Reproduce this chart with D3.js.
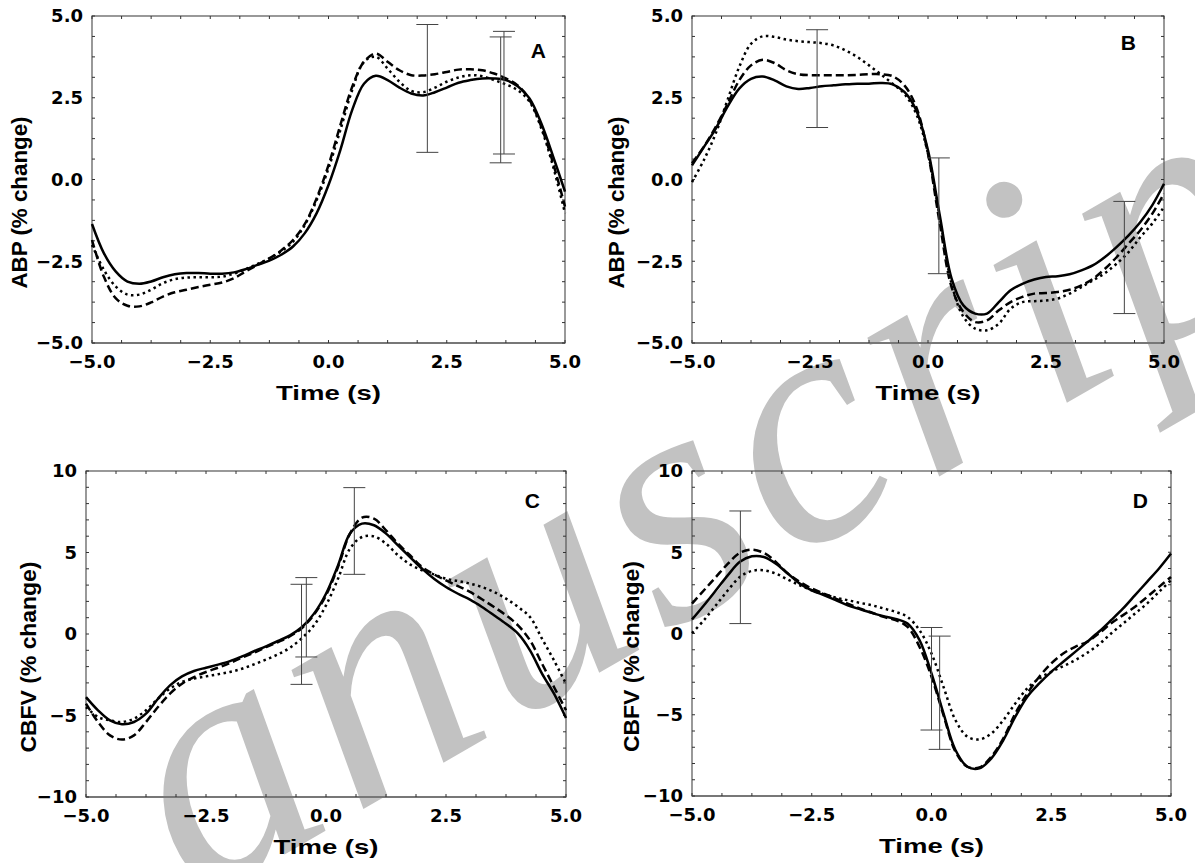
<!DOCTYPE html>
<html>
<head>
<meta charset="utf-8">
<script src="https://cdn.jsdelivr.net/npm/d3@7"></script>
<style>
	body { margin: 0; background: #fff; }
	svg { display: block; }
	.tick-label { font-family: 'DejaVu Sans', sans-serif; font-weight: bold; font-size: 18px; fill: #000; }
	.axis-title { font-family: 'Liberation Sans', Arial, sans-serif; font-weight: bold; fill: #000; }
</style>
</head>
<body>
<div id="graph"></div>
<script>

// sample times (s), shared by every curve
const time = [-5, -4.75, -4.5, -4.25, -4, -3.75, -3.5, -3.25, -3, -2.75, -2.5, -2.25, -2, -1.75, -1.5, -1.25, -1, -0.75, -0.5, -0.25,
	0, 0.25, 0.5, 0.75, 1, 1.25, 1.5, 1.75, 2, 2.25, 2.5, 2.75, 3, 3.25, 3.5, 3.75, 4, 4.25, 4.5, 4.75, 5]

// panel A : ABP
const abpASolid = [-1.36, -2.25, -2.81, -3.12, -3.19, -3.12, -2.99, -2.9, -2.86, -2.86, -2.88, -2.88, -2.84, -2.74, -2.61, -2.48, -2.3, -2.05, -1.64, -1.03,
	-0.17, 0.9, 2.12, 2.93, 3.17, 3.04, 2.81, 2.63, 2.57, 2.67, 2.81, 2.96, 3.04, 3.09, 3.09, 3.04, 2.85, 2.48, 1.71, 0.7, -0.37]
const abpADashed = [-1.85, -2.97, -3.63, -3.86, -3.88, -3.76, -3.58, -3.45, -3.37, -3.29, -3.22, -3.15, -3.02, -2.81, -2.61, -2.41, -2.17, -1.85, -1.36, -0.57,
	0.44, 1.66, 2.83, 3.6, 3.85, 3.6, 3.34, 3.19, 3.18, 3.22, 3.29, 3.36, 3.37, 3.34, 3.24, 3.09, 2.88, 2.43, 1.61, 0.49, -0.83]
const abpADotted = [-2.0, -2.76, -3.27, -3.52, -3.52, -3.37, -3.17, -3.05, -3.0, -2.99, -2.99, -2.97, -2.88, -2.74, -2.58, -2.41, -2.2, -1.9, -1.39, -0.63,
	0.34, 1.51, 2.73, 3.6, 3.75, 3.39, 2.99, 2.71, 2.67, 2.81, 2.99, 3.12, 3.19, 3.16, 3.04, 2.91, 2.73, 2.38, 1.56, 0.39, -1.03]
const abpAErrT = [2.09, 3.64, 3.71]
const abpAErrLo = [0.83, 0.51, 0.78]
const abpAErrHi = [4.74, 4.36, 4.53]

// panel B : ABP
const abpBSolid = [0.43, 0.99, 1.55, 2.22, 2.78, 3.08, 3.15, 3.03, 2.85, 2.77, 2.8, 2.85, 2.88, 2.91, 2.93, 2.93, 2.95, 2.91, 2.68, 2.12,
	0.89, -1.1, -3.03, -3.85, -4.1, -4.1, -3.75, -3.39, -3.19, -3.06, -2.98, -2.96, -2.9, -2.78, -2.62, -2.37, -2.06, -1.71, -1.3, -0.79, -0.13]
const abpBDashed = [0.5, 1.0, 1.6, 2.3, 3.03, 3.49, 3.66, 3.56, 3.34, 3.22, 3.19, 3.19, 3.19, 3.19, 3.2, 3.22, 3.22, 3.16, 2.88, 2.22,
	0.79, -1.35, -3.29, -4.05, -4.36, -4.31, -4.0, -3.75, -3.59, -3.49, -3.47, -3.44, -3.37, -3.24, -3.03, -2.73, -2.37, -1.96, -1.55, -1.05, -0.43]
const abpBDotted = [-0.08, 0.59, 1.4, 2.42, 3.44, 4.15, 4.38, 4.36, 4.28, 4.23, 4.2, 4.17, 4.1, 3.95, 3.75, 3.49, 3.22, 2.93, 2.62, 2.01,
	0.79, -1.15, -3.19, -4.2, -4.56, -4.61, -4.41, -3.95, -3.75, -3.72, -3.7, -3.64, -3.49, -3.29, -3.08, -2.86, -2.57, -2.22, -1.76, -1.35, -0.84]
const abpBErrT = [-2.35, 0.23, 4.16]
const abpBErrLo = [1.59, -2.88, -4.1]
const abpBErrHi = [4.58, 0.66, -0.67]

// panel C : CBFV
const cbfvCSolid = [-3.87, -4.68, -5.3, -5.54, -5.4, -4.89, -3.97, -3.15, -2.6, -2.27, -2.07, -1.88, -1.66, -1.37, -1.06, -0.76, -0.43, -0.08, 0.43, 1.25,
	2.47, 4.21, 6.16, 6.77, 6.67, 6.16, 5.44, 4.72, 4.01, 3.39, 2.88, 2.47, 2.11, 1.66, 1.15, 0.63, 0.02, -1.0, -2.43, -3.66, -5.15]
const cbfvCDashed = [-4.27, -5.4, -6.22, -6.48, -6.22, -5.4, -4.48, -3.66, -3.05, -2.64, -2.33, -2.07, -1.78, -1.45, -1.15, -0.8, -0.49, -0.14, 0.37, 1.19,
	2.37, 4.11, 6.16, 7.14, 7.08, 6.36, 5.54, 4.83, 4.11, 3.66, 3.29, 2.94, 2.58, 2.13, 1.66, 1.15, 0.53, -0.39, -1.82, -3.25, -4.68]
const cbfvCDotted = [-4.48, -5.09, -5.3, -5.4, -5.19, -4.68, -3.97, -3.35, -2.94, -2.74, -2.6, -2.47, -2.33, -2.13, -1.86, -1.57, -1.25, -0.84, -0.25, 0.53,
	1.76, 3.39, 5.24, 5.95, 5.99, 5.54, 4.83, 4.27, 3.91, 3.66, 3.39, 3.25, 3.09, 2.88, 2.58, 2.17, 1.66, 1.04, -0.29, -1.62, -3.05]
const cbfvCErrT = [-0.51, -0.41, 0.59]
const cbfvCErrLo = [-3.09, -1.41, 3.66]
const cbfvCErrHi = [3.05, 3.46, 8.98]

// panel D : CBFV
const cbfvDSolid = [0.86, 1.74, 2.66, 3.59, 4.41, 4.75, 4.71, 4.3, 3.69, 3.07, 2.66, 2.36, 2.05, 1.74, 1.5, 1.27, 1.07, 0.9, 0.61, -0.41,
	-2.46, -4.92, -7.17, -8.2, -8.3, -7.68, -6.56, -5.12, -3.89, -3.07, -2.36, -1.74, -1.13, -0.51, 0.12, 0.82, 1.54, 2.36, 3.18, 4.0, 4.92]
const cbfvDDashed = [1.84, 2.66, 3.48, 4.3, 4.96, 5.16, 4.96, 4.41, 3.69, 3.18, 2.77, 2.46, 2.15, 1.84, 1.54, 1.29, 1.02, 0.82, 0.41, -0.82,
	-2.66, -5.02, -7.27, -8.2, -8.24, -7.58, -6.45, -4.92, -3.69, -2.66, -1.84, -1.23, -0.82, -0.51, 0.02, 0.63, 1.13, 1.64, 2.25, 2.87, 3.48]
const cbfvDDotted = [0.02, 0.82, 1.74, 2.66, 3.48, 3.85, 3.89, 3.69, 3.32, 2.97, 2.66, 2.42, 2.21, 2.05, 1.89, 1.74, 1.54, 1.33, 1.02, 0.2,
	-1.23, -3.28, -5.33, -6.35, -6.52, -6.15, -5.33, -4.3, -3.38, -2.77, -2.36, -2.01, -1.64, -1.19, -0.66, 0.0, 0.61, 1.23, 1.84, 2.56, 3.28]
const cbfvDErrT = [-3.99, 0.0, 0.17]
const cbfvDErrLo = [0.61, -5.94, -7.13]
const cbfvDErrHi = [7.54, 0.37, -0.16]

// tick labels
const timeTicks = [-5, -2.5, 0, 2.5, 5]
const abpTicks = [-5, -2.5, 0, 2.5, 5]
const cbfvTicks = [-10, -5, 0, 5, 10]

const width = 1195
	, height = 863
	, lineStyles = [
		{ dash: null },        // solid
		{ dash: '8,4' },       // dashed
		{ dash: '2.5,3.5' }    // dotted
	]

/**
 * panel layout: frame in pixels, y domain, labels
 */
const panels = [
	{ letter: 'A', frame: [92, 16, 565, 343], yDomain: [-5, 5], yTicks: abpTicks, yMinor: 0.625, yFmt: d3.format('.1f'),
	  yTitle: 'ABP (% change)', yTitleLen: 172, titleDx: -65, letterPos: [-19, 42],
	  series: [abpASolid, abpADashed, abpADotted], err: [abpAErrT, abpAErrLo, abpAErrHi] }
	, { letter: 'B', frame: [692, 16, 1164, 343], yDomain: [-5, 5], yTicks: abpTicks, yMinor: 0.625, yFmt: d3.format('.1f'),
	  yTitle: 'ABP (% change)', yTitleLen: 172, titleDx: -68, letterPos: [-28, 34],
	  series: [abpBSolid, abpBDashed, abpBDotted], err: [abpBErrT, abpBErrLo, abpBErrHi] }
	, { letter: 'C', frame: [86, 471, 566, 797], yDomain: [-10, 10], yTicks: cbfvTicks, yMinor: 1, yFmt: d3.format('d'),
	  yTitle: 'CBFV (% change)', yTitleLen: 191, titleDx: -50, letterPos: [-26, 37],
	  series: [cbfvCSolid, cbfvCDashed, cbfvCDotted], err: [cbfvCErrT, cbfvCErrLo, cbfvCErrHi] }
	, { letter: 'D', frame: [692, 471, 1171, 796], yDomain: [-10, 10], yTicks: cbfvTicks, yMinor: 1, yFmt: d3.format('d'),
	  yTitle: 'CBFV (% change)', yTitleLen: 191, titleDx: -53, letterPos: [-23, 37],
	  series: [cbfvDSolid, cbfvDDashed, cbfvDDotted], err: [cbfvDErrT, cbfvDErrLo, cbfvDErrHi] }
]

const svg = d3.select('#graph')
	.append('svg')
	  .attr('width', width)
	  .attr('height', height)
	  .attr('viewBox', '0 0 ' + width + ' ' + height)

// watermark behind the charts
svg.append('text')
	.attr('transform', 'translate(197,905) rotate(-30)')
	.style('font-family', "'Liberation Serif', 'Times New Roman', serif")
	.style('font-style', 'italic')
	.style('font-size', '340px')
	.style('letter-spacing', '10px')
	.style('fill', '#c2c2c2')
	.text('anuscript')

/**
 * draw one panel
 */
function drawPanel(p) {

	let [x0, y0, x1, y1] = p.frame
		, x = d3.scaleLinear().domain([-5, 5]).range([x0, x1])
		, y = d3.scaleLinear().domain(p.yDomain).range([y1, y0])
		, g = svg.append('g').attr('class', 'panel-' + p.letter)
		, line = d3.line()
			.x(d => x(d[0]))
			.y(d => y(d[1]))
			.curve(d3.curveCatmullRom.alpha(0.5))

	// frame
	g.append('rect')
		.attr('x', x0).attr('y', y0)
		.attr('width', x1 - x0).attr('height', y1 - y0)
		.attr('fill', 'none')
		.attr('stroke', '#555')
		.attr('stroke-width', 1.2)

	g.append('line')
		.attr('x1', x0).attr('x2', x1)
		.attr('y1', y1).attr('y2', y1)
		.attr('stroke', '#777')
		.attr('stroke-width', 2)

	// minor ticks inside the frame, on all four sides
	let xMinor = d3.range(-5, 5.0001, 0.625)
		, yMinor = d3.range(p.yDomain[0], p.yDomain[1] + 0.0001, p.yMinor)

	g.append('g').selectAll('line')
		.data(xMinor)
		.join('line')
		  .attr('x1', d => x(d)).attr('x2', d => x(d))
		  .attr('y1', y1).attr('y2', y1 - 3)
		  .attr('stroke', '#333')
	g.append('g').selectAll('line')
		.data(xMinor)
		.join('line')
		  .attr('x1', d => x(d)).attr('x2', d => x(d))
		  .attr('y1', y0).attr('y2', y0 + 3)
		  .attr('stroke', '#333')
	g.append('g').selectAll('line')
		.data(yMinor)
		.join('line')
		  .attr('y1', d => y(d)).attr('y2', d => y(d))
		  .attr('x1', x0).attr('x2', x0 + 3)
		  .attr('stroke', '#333')
	g.append('g').selectAll('line')
		.data(yMinor)
		.join('line')
		  .attr('y1', d => y(d)).attr('y2', d => y(d))
		  .attr('x1', x1).attr('x2', x1 - 3)
		  .attr('stroke', '#333')

	// tick labels
	g.append('g').selectAll('text')
		.data(timeTicks)
		.join('text')
		  .attr('class', 'tick-label')
		  .attr('x', d => x(d))
		  .attr('y', y1 + 25)
		  .attr('text-anchor', 'middle')
		  .text(d3.format('.1f'))

	g.append('g').selectAll('text')
		.data(p.yTicks)
		.join('text')
		  .attr('class', 'tick-label')
		  .attr('x', x0 - 9)
		  .attr('y', d => y(d))
		  .attr('dy', '0.36em')
		  .attr('text-anchor', 'end')
		  .text(p.yFmt)

	// axis titles
	g.append('text')
		.attr('class', 'axis-title')
		.attr('x', (x0 + x1) / 2)
		.attr('y', y1 + 57)
		.attr('text-anchor', 'middle')
		.style('font-size', '21px')
		.attr('textLength', 105)
		.attr('lengthAdjust', 'spacingAndGlyphs')
		.text('Time (s)')

	g.append('text')
		.attr('class', 'axis-title')
		.attr('transform', 'translate(' + (x0 + p.titleDx) + ',' + ((y0 + y1) / 2 + 23) + ') rotate(-90)')
		.attr('text-anchor', 'middle')
		.style('font-size', '22px')
		.attr('textLength', p.yTitleLen)
		.attr('lengthAdjust', 'spacingAndGlyphs')
		.text(p.yTitle)

	// panel letter
	g.append('text')
		.attr('class', 'axis-title')
		.attr('x', x1 + p.letterPos[0])
		.attr('y', y0 + p.letterPos[1])
		.attr('text-anchor', 'end')
		.style('font-size', '21px')
		.text(p.letter)

	// curves: dotted, dashed, then solid on top
	let order = [2, 1, 0]
	order.forEach(function (k) {
		let pts = time.map((t, i) => [t, p.series[k][i]])
		g.append('path')
			.attr('d', line(pts))
			.attr('fill', 'none')
			.attr('stroke', '#000')
			.attr('stroke-width', 2.5)
			.attr('stroke-dasharray', lineStyles[k].dash)
	})

	// error bars
	let bars = p.err[0].map((t, i) => ({ t: t, lo: p.err[1][i], hi: p.err[2][i] }))
		, eb = g.append('g')
			.attr('stroke', '#444')
			.attr('stroke-width', 1)

	eb.selectAll('.stem')
		.data(bars)
		.join('line')
		  .attr('class', 'stem')
		  .attr('x1', d => x(d.t)).attr('x2', d => x(d.t))
		  .attr('y1', d => y(d.lo)).attr('y2', d => y(d.hi))
	eb.selectAll('.cap-hi')
		.data(bars)
		.join('line')
		  .attr('class', 'cap-hi')
		  .attr('x1', d => x(d.t) - 11).attr('x2', d => x(d.t) + 11)
		  .attr('y1', d => y(d.hi)).attr('y2', d => y(d.hi))
	eb.selectAll('.cap-lo')
		.data(bars)
		.join('line')
		  .attr('class', 'cap-lo')
		  .attr('x1', d => x(d.t) - 11).attr('x2', d => x(d.t) + 11)
		  .attr('y1', d => y(d.lo)).attr('y2', d => y(d.lo))
}

panels.forEach(drawPanel)

</script>
</body>
</html>
